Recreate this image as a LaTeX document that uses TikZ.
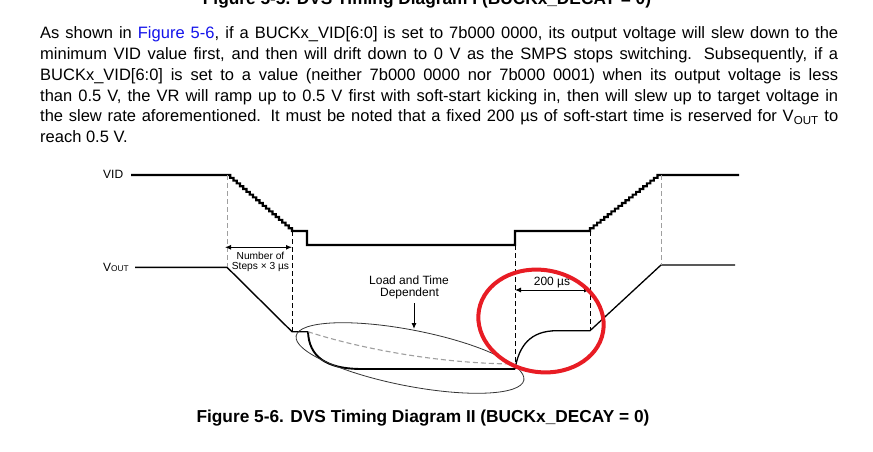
\documentclass[tikz,border=0pt]{standalone}
\usepackage{fontspec}
\setmainfont{Liberation Sans}
\usetikzlibrary{arrows.meta,shapes.geometric}
\definecolor{figblue}{RGB}{20,20,235}
\definecolor{markred}{RGB}{232,28,36}
\begin{document}
\begin{tikzpicture}[x=1pt,y=-1pt,
  paraline/.style={anchor=base west, inner sep=0pt, font=\fontsize{16.5}{20.7}\selectfont},
  captxt/.style={anchor=base, inner sep=0pt, font=\bfseries\fontsize{17.3}{20}\selectfont},
  vidwave/.style={line width=2.1pt, line join=miter},
  voutwave/.style={line width=1.4pt, line join=round},
  guide/.style={line width=0.9pt, dash pattern=on 5pt off 3pt},
  guidegrey/.style={guide, draw=gray!75},
  dimarrow/.style={line width=1pt, {Latex[length=6pt,width=5pt]}-{Latex[length=6pt,width=5pt]}},
  ptrarrow/.style={line width=1pt, -{Latex[length=6pt,width=5pt]}},
  sig/.style={inner sep=0pt, font=\fontsize{12}{14}\selectfont},
  small/.style={inner sep=0pt, font=\fontsize{10.2}{11}\selectfont, align=center},
  note/.style={inner sep=0pt, font=\fontsize{12}{14}\selectfont},
]
\useasboundingbox (0,0) rectangle (873,452);
\fill[white] (0,0) rectangle (873,452);

% cut-off caption at the top
\node[captxt] (topcap) at (427,4.3) {Figure 5-5. DVS Timing Diagram I (BUCKx\_DECAY = 0)};

% paragraph
\node[paraline] (p1) at (40,38.7) {\makebox[798pt][s]{As shown in {\color{figblue}Figure 5-6}, if a BUCKx\_VID[6:0] is set to 7b000 0000, its output voltage will slew down to the}};
\node[paraline] (p2) at (40,59.5) {\makebox[798pt][s]{minimum VID value first, and then will drift down to 0 V as the SMPS stops switching. Subsequently, if a}};
\node[paraline] (p3) at (40,80.3) {\makebox[798pt][s]{BUCKx\_VID[6:0] is set to a value (neither 7b000 0000 nor 7b000 0001) when its output voltage is less}};
\node[paraline] (p4) at (40,101.1) {\makebox[798pt][s]{than 0.5 V, the VR will ramp up to 0.5 V first with soft-start kicking in, then will slew up to target voltage in}};
\node[paraline] (p5) at (40,121.9) {\makebox[798pt][s]{the slew rate aforementioned. It must be noted that a fixed 200 µs of soft-start time is reserved for V\textsubscript{OUT} to}};
\node[paraline] (p6) at (40,142.7) {reach 0.5 V.};

% signal labels
\node[sig, anchor=west] (vidlbl) at (103,174.7) {VID};
\node[sig, anchor=west] (voutlbl) at (103,267.3) {V{\fontsize{8.3}{10}\selectfont OUT}};

% key points
\coordinate (vA) at (131,175);
\coordinate (vB) at (227,175);
\coordinate (vC) at (292,231);
\coordinate (vD) at (307,231);
\coordinate (vE) at (307,245);
\coordinate (vF) at (515,245);
\coordinate (vG) at (515,231);
\coordinate (vH) at (590,231);
\coordinate (vI) at (661,175);
\coordinate (vJ) at (739,175);

\coordinate (oA) at (135,267.3);
\coordinate (oB) at (227,267.3);
\coordinate (oC) at (292,331.7);
\coordinate (oD) at (308,331.7);
\coordinate (oE) at (362,369);
\coordinate (oF) at (515,369);
\coordinate (oG) at (557,330.7);
\coordinate (oH) at (590,330.7);
\coordinate (oI) at (661,265);
\coordinate (oJ) at (735,265);
\coordinate (oK) at (512,364);

% VID waveform
\draw[vidwave] (vA) -- (vB)
  \foreach \i in {1,...,20} { -- ++(3.25,0) -- ++(0,2.8) }
  -- (vD) -- (vE) -- (vF) -- (vG) -- (vH)
  \foreach \i in {1,...,20} { -- ++(0,-2.8) -- ++(3.55,0) }
  -- (vJ);

% VOUT waveform
\draw[voutwave] (oA) -- (oB) -- (oC) -- (oD);
\draw[line width=1.9pt] (oD) .. controls (309,356) and (325,369) .. (oE) -- (oF);
\draw[line width=1.3pt] (oF) .. controls (519,346) and (530,330.7) .. (oG) -- (oH) -- (oI) -- (oJ);
\draw[guidegrey, line width=1.1pt] (oD) .. controls (345,344) and (425,363) .. (oK);

% guide lines
\draw[guidegrey] (vB) -- (oB);
\draw[guide] (vC) -- (oC);
\draw[guide] (vF) -- (515,366);
\draw[guide] (vH) -- (oH);
\draw[guidegrey] (vI) -- (oI);

% dimension arrows
\coordinate (d1a) at (225,247.3);
\coordinate (d1b) at (292,247.3);
\draw[dimarrow] (d1a) -- (d1b);
\node[small] (steps) at (260.5,262) {Number of\\[-1.5pt]Steps × 3 µs};

\coordinate (d2a) at (515,290);
\coordinate (d2b) at (590,290);
\draw[dimarrow] (d2a) -- (d2b);
\node[note] (ss) at (552,282.5) {200 µs};

% load dependent ellipse and note
\node[draw=black!80, line width=0.8pt, ellipse, minimum width=232pt, minimum height=56pt, inner sep=0pt, rotate=-11] (loadell) at (410,358) {};
\node[note] (ld1) at (409,280) {Load and Time};
\node[note] (ld2) at (409.5,293.5) {Dependent};
\coordinate (ptrA) at (414,303);
\coordinate (ptrB) at (414,329);
\draw[ptrarrow] (ptrA) -- (ptrB);

% red marker
\node[draw=markred, line width=4pt, ellipse, minimum width=126pt, minimum height=102pt, inner sep=0pt, rotate=-10] (redmark) at (541,321) {};

% caption
\node[captxt] (cap) at (423,422) {Figure 5-6. DVS Timing Diagram II (BUCKx\_DECAY = 0)};
\end{tikzpicture}
\end{document}
